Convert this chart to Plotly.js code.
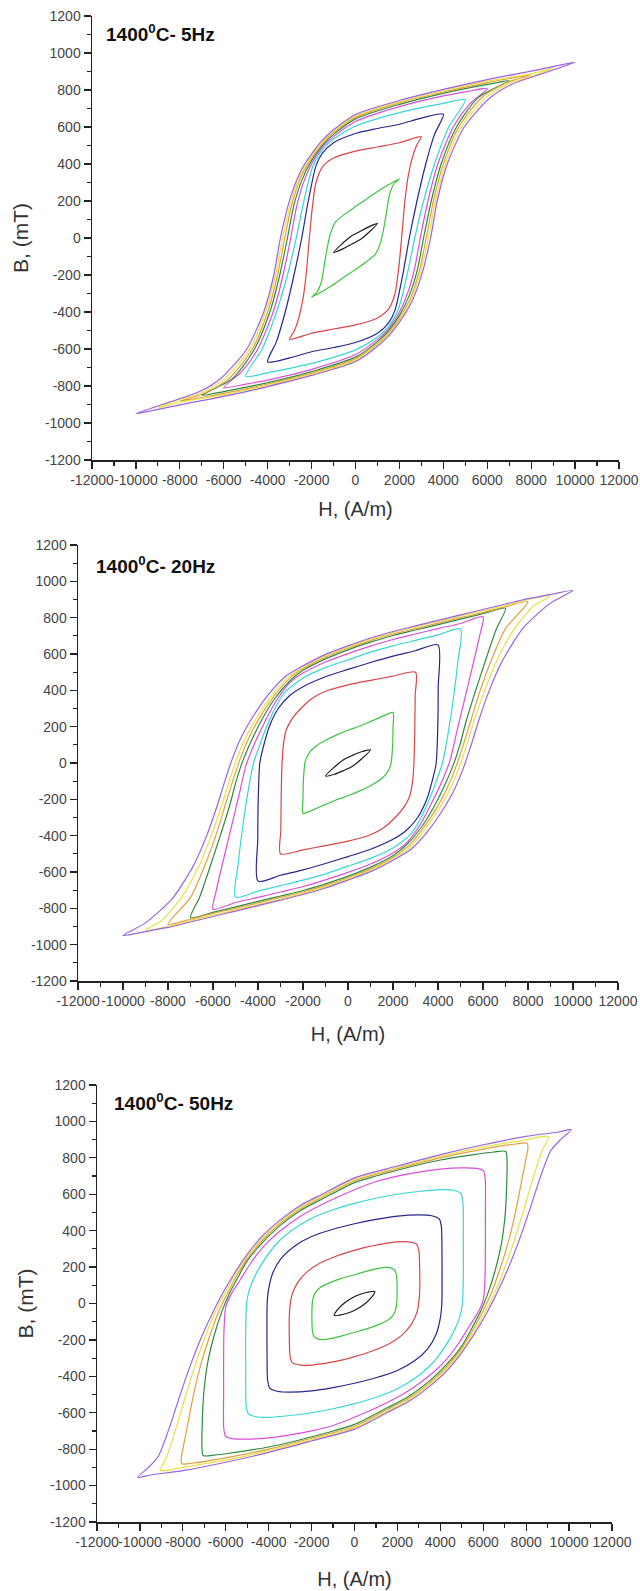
<!DOCTYPE html>
<html><head><meta charset="utf-8">
<script src="https://cdn.plot.ly/plotly-3.0.1.min.js"></script>
<style>html,body{margin:0;padding:0;background:#fff}#chart{width:640px;height:1591px}</style>
</head><body><div id="chart"></div>
<script>
// ---- axis ticks ----
const xTickVals = [-12000,-10000,-8000,-6000,-4000,-2000,0,2000,4000,6000,8000,10000,12000];
const xTickText = ['-12000','-10000','-8000','-6000','-4000','-2000','0','2000','4000','6000','8000','10000','12000'];
const yTickVals = [-1200,-1000,-800,-600,-400,-200,0,200,400,600,800,1000,1200];
const yTickText = ['-1200','-1000','-800','-600','-400','-200','0','200','400','600','800','1000','1200'];
const panelTitles = ['<b>1400<sup>0</sup>C- 5Hz</b>','<b>1400<sup>0</sup>C- 20Hz</b>','<b>1400<sup>0</sup>C- 50Hz</b>'];
const loopColors = ['#1a1a1a','#3ec43e','#d94545','#26268f','#38d6d6','#d94fd9','#2e8b3e','#e0a040','#e8e048','#9b62e0'];

// ---- 5 Hz loops (H in A/m, B in mT), closed paths ----
const h5_1 = [1000,600,200,-200,-600,-1000,-600,-200,200,600,1000];
const b5_1 = [78,60,35,10,-30,-78,-60,-35,-10,30,78];
const h5_2 = [2000,1500,1000,500,0,-500,-900,-1100,-1250,-1400,-1550,-1750,-2000,-1500,-1000,-500,0,500,900,1100,1250,1400,1550,1750,2000];
const b5_2 = [320,288,252,210,170,128,88,40,-30,-130,-235,-292,-320,-288,-252,-210,-170,-128,-88,-40,30,130,235,292,320];
const h5_3 = [3000,2000,1000,0,-1000,-1500,-1800,-1980,-2100,-2250,-2400,-2600,-2800,-3000,-2000,-1000,0,1000,1500,1800,1980,2100,2250,2400,2600,2800,3000];
const b5_3 = [548,515,492,470,432,385,300,150,0,-200,-335,-440,-505,-548,-515,-492,-470,-432,-385,-300,-150,0,200,335,440,505,548];
const h5_4 = [4000,3000,2000,1000,0,-1000,-1500,-1800,-2150,-2450,-2800,-3200,-3600,-4000,-3000,-2000,-1000,0,1000,1500,1800,2150,2450,2800,3200,3600,4000];
const b5_4 = [670,648,615,592,565,515,460,390,200,0,-200,-400,-560,-670,-648,-615,-592,-565,-515,-460,-390,-200,0,200,400,560,670];
const h5_5 = [5000,4000,3000,2000,1000,0,-1000,-1500,-1950,-2350,-2700,-3100,-3600,-4250,-5000,-4000,-3000,-2000,-1000,0,1000,1500,1950,2350,2700,3100,3600,4250,5000];
const b5_5 = [748,728,705,678,645,605,535,480,385,200,0,-200,-400,-600,-748,-728,-705,-678,-645,-605,-535,-480,-385,-200,0,200,400,600,748];
const h5_6 = [6000,5000,4000,2000,0,-1000,-1500,-2000,-2400,-2700,-2950,-3300,-3750,-4450,-5200,-6000,-5000,-4000,-2000,0,1000,1500,2000,2400,2700,2950,3300,3750,4450,5200,6000];
const b5_6 = [808,790,768,710,630,548,492,400,290,160,0,-200,-400,-600,-725,-808,-790,-768,-710,-630,-548,-492,-400,-290,-160,0,200,400,600,725,808];
const h5_7 = [7000,6000,4000,2000,0,-1000,-1500,-2000,-2450,-2800,-3100,-3450,-3900,-4600,-5600,-7000,-6000,-4000,-2000,0,1000,1500,2000,2450,2800,3100,3450,3900,4600,5600,7000];
const b5_7 = [850,830,782,722,644,560,502,418,310,180,0,-200,-400,-600,-760,-850,-830,-782,-722,-644,-560,-502,-418,-310,-180,0,200,400,600,760,850];
const h5_8 = [8000,7000,6000,4000,2000,0,-1000,-1500,-2000,-2500,-2900,-3220,-3550,-4000,-4700,-5800,-7000,-8000,-7000,-6000,-4000,-2000,0,1000,1500,2000,2500,2900,3220,3550,4000,4700,5800,7000,8000];
const b5_8 = [882,862,840,789,730,652,570,512,432,325,180,0,-200,-400,-600,-765,-845,-882,-862,-840,-789,-730,-652,-570,-512,-432,-325,-180,0,200,400,600,765,845,882];
const h5_9 = [9000,8000,6000,4000,2000,0,-1000,-1500,-2000,-2500,-2950,-3320,-3640,-4100,-4820,-5950,-7000,-8000,-9000,-8000,-6000,-4000,-2000,0,1000,1500,2000,2500,2950,3320,3640,4100,4820,5950,7000,8000,9000];
const b5_9 = [918,888,848,796,736,660,576,522,444,340,190,0,-200,-400,-600,-760,-835,-872,-918,-888,-848,-796,-736,-660,-576,-522,-444,-340,-190,0,200,400,600,760,835,872,918];
const h5_10 = [10000,8000,6000,4000,2000,0,-1000,-1500,-2000,-2500,-3000,-3420,-3720,-4180,-4950,-6100,-7100,-8500,-10000,-8000,-6000,-4000,-2000,0,1000,1500,2000,2500,3000,3420,3720,4180,4950,6100,7100,8500,10000];
const b5_10 = [950,902,856,803,743,668,585,530,455,360,205,0,-200,-400,-600,-755,-830,-888,-950,-902,-856,-803,-743,-668,-585,-530,-455,-360,-205,0,200,400,600,755,830,888,950];

// ---- 20 Hz loops ----
const h20_1 = [1000,600,200,-200,-600,-1000,-600,-200,200,600,1000];
const b20_1 = [72,62,42,18,-22,-72,-62,-42,-18,22,72];
const h20_2 = [2000,1500,1000,500,0,-500,-1000,-1400,-1700,-1900,-1980,-2000,-2000,-1500,-1000,-500,0,500,1000,1400,1700,1900,1980,2000,2000];
const b20_2 = [278,255,228,202,180,155,125,95,60,10,-90,-200,-278,-255,-228,-202,-180,-155,-125,-95,-60,-10,90,200,278];
const h20_3 = [3000,2000,1000,0,-1000,-1600,-2100,-2500,-2750,-2880,-2930,-2970,-2985,-3000,-2000,-1000,0,1000,1600,2100,2500,2750,2880,2930,2970,2985,3000];
const b20_3 = [500,478,455,430,395,355,300,240,180,90,0,-186,-370,-500,-478,-455,-430,-395,-355,-300,-240,-180,-90,0,186,370,500];
const h20_4 = [4000,3000,2000,1000,0,-1000,-2000,-2600,-3100,-3500,-3780,-3920,-3990,-4010,-4000,-3000,-2000,-1000,0,1000,2000,2600,3100,3500,3780,3920,3990,4010,4000];
const b20_4 = [650,618,588,553,515,475,420,370,300,200,80,0,-200,-420,-650,-618,-588,-553,-515,-475,-420,-370,-300,-200,-80,0,200,420,650];
const h20_5 = [5000,4000,3000,2000,1000,0,-1000,-2000,-2800,-3250,-3650,-3950,-4200,-4500,-4700,-4880,-5000,-4000,-3000,-2000,-1000,0,1000,2000,2800,3250,3650,3950,4200,4500,4700,4880,5000];
const b20_5 = [738,705,675,645,610,568,525,468,390,300,190,90,0,-200,-370,-555,-738,-705,-675,-645,-610,-568,-525,-468,-390,-300,-190,-90,0,200,370,555,738];
const h20_6 = [6000,5000,4000,3000,2000,1000,0,-1000,-2000,-2600,-3250,-3800,-4250,-4550,-4850,-5200,-5550,-5850,-6000,-5000,-4000,-3000,-2000,-1000,0,1000,2000,2600,3250,3800,4250,4550,4850,5200,5550,5850,6000];
const b20_6 = [805,768,740,710,680,643,602,556,495,440,330,200,80,-20,-180,-360,-540,-700,-805,-768,-740,-710,-680,-643,-602,-556,-495,-440,-330,-200,-80,20,180,360,540,700,805];
const h20_7 = [7000,6000,5000,4000,3000,2000,1000,0,-1000,-2000,-2600,-3250,-3800,-4250,-4650,-4950,-5250,-5650,-6100,-6600,-7000,-6000,-5000,-4000,-3000,-2000,-1000,0,1000,2000,2600,3250,3800,4250,4650,4950,5250,5650,6100,6600,7000];
const b20_7 = [852,822,792,762,732,702,665,623,573,510,450,355,245,135,20,-90,-230,-390,-560,-740,-852,-822,-792,-762,-732,-702,-665,-623,-573,-510,-450,-355,-245,-135,-20,90,230,390,560,740,852];
const h20_8 = [8000,7000,6000,5000,4000,3000,2000,1000,0,-1000,-2000,-2650,-3300,-3900,-4400,-4800,-5100,-5450,-5850,-6350,-7000,-8000,-7000,-6000,-5000,-4000,-3000,-2000,-1000,0,1000,2000,2650,3300,3900,4400,4800,5100,5450,5850,6350,7000,8000];
const b20_8 = [888,860,828,800,770,740,710,674,632,583,520,460,365,255,140,20,-90,-230,-390,-560,-740,-888,-860,-828,-800,-770,-740,-710,-674,-632,-583,-520,-460,-365,-255,-140,-20,90,230,390,560,740,888];
const h20_9 = [9000,8000,7000,6000,5000,4000,3000,2000,1000,0,-1000,-2000,-2700,-3400,-4000,-4550,-4950,-5250,-5600,-6050,-6600,-7400,-8300,-9000,-8000,-7000,-6000,-5000,-4000,-3000,-2000,-1000,0,1000,2000,2700,3400,4000,4550,4950,5250,5600,6050,6600,7400,8300,9000];
const b20_9 = [920,900,868,838,810,780,750,718,682,637,590,527,470,370,260,140,20,-90,-230,-390,-560,-740,-870,-920,-900,-868,-838,-810,-780,-750,-718,-682,-637,-590,-527,-470,-370,-260,-140,-20,90,230,390,560,740,870,920];
const h20_10 = [10000,9000,8000,7000,6000,5000,4000,3000,2000,1000,0,-1000,-2000,-2800,-3550,-4200,-4750,-5150,-5450,-5800,-6250,-6850,-7800,-9000,-10000,-9000,-8000,-7000,-6000,-5000,-4000,-3000,-2000,-1000,0,1000,2000,2800,3550,4200,4750,5150,5450,5800,6250,6850,7800,9000,10000];
const b20_10 = [950,928,905,875,845,815,785,755,724,688,645,598,535,475,375,260,140,20,-90,-230,-390,-560,-745,-880,-950,-928,-905,-875,-845,-815,-785,-755,-724,-688,-645,-598,-535,-475,-375,-260,-140,-20,90,230,390,560,745,880,950];

// ---- 50 Hz loops ----
const h50_1 = [950,700,300,-100,-500,-800,-950,-700,-300,100,500,800,950];
const b50_1 = [66,64,52,32,0,-35,-66,-64,-52,-32,0,35,66];
const h50_2 = [1960,1880,1700,1400,1000,500,0,-600,-1200,-1600,-1850,-1960,-1985,-1960,-1880,-1700,-1400,-1000,-500,0,600,1200,1600,1850,1960,1985,1960];
const b50_2 = [150,182,196,198,190,175,158,138,112,88,55,10,-60,-150,-182,-196,-198,-190,-175,-158,-138,-112,-88,-55,-10,60,150];
const h50_3 = [3000,2900,2500,2000,1200,500,0,-800,-1600,-2200,-2650,-2920,-3030,-3040,-3000,-2900,-2500,-2000,-1200,-500,0,800,1600,2200,2650,2920,3030,3040,3000];
const b50_3 = [290,325,338,338,325,308,292,262,222,175,115,45,-50,-180,-290,-325,-338,-338,-325,-308,-292,-262,-222,-175,-115,-45,50,180,290];
const h50_4 = [4050,3950,3600,3000,2000,1000,0,-1000,-2000,-2800,-3400,-3800,-4000,-4070,-4080,-4075,-4050,-3950,-3600,-3000,-2000,-1000,0,1000,2000,2800,3400,3800,4000,4070,4080,4075,4050];
const b50_4 = [420,465,482,487,480,462,438,408,368,315,250,170,80,0,-150,-300,-420,-465,-482,-487,-480,-462,-438,-408,-368,-315,-250,-170,-80,0,150,300,420];
const h50_5 = [5050,4950,4600,4000,3000,2000,1000,0,-1000,-2000,-3000,-3700,-4200,-4600,-4900,-5030,-5070,-5070,-5050,-4950,-4600,-4000,-3000,-2000,-1000,0,1000,2000,3000,3700,4200,4600,4900,5030,5070,5070,5050];
const b50_5 = [560,605,622,625,615,600,578,550,515,468,395,320,240,160,75,0,-150,-350,-560,-605,-622,-625,-615,-600,-578,-550,-515,-468,-395,-320,-240,-160,-75,0,150,350,560];
const h50_6 = [6090,6000,5700,5000,4000,3000,2000,1000,0,-1500,-2500,-3500,-4300,-4900,-5350,-5750,-6000,-6080,-6100,-6100,-6090,-6000,-5700,-5000,-4000,-3000,-2000,-1000,0,1500,2500,3500,4300,4900,5350,5750,6000,6080,6100,6100,6090];
const b50_6 = [690,730,742,745,738,722,700,670,625,545,480,395,305,210,125,50,-20,-140,-300,-500,-690,-730,-742,-745,-738,-722,-700,-670,-625,-545,-480,-395,-305,-210,-125,-50,20,140,300,500,690];
const h50_7 = [7050,6500,6000,5000,4000,3000,2000,1000,0,-1500,-2500,-3500,-4300,-5000,-5450,-5850,-6200,-6550,-6850,-7030,-7100,-7110,-7050,-6500,-6000,-5000,-4000,-3000,-2000,-1000,0,1500,2500,3500,4300,5000,5450,5850,6200,6550,6850,7030,7100,7110,7050];
const b50_7 = [835,832,825,808,788,762,732,700,664,574,512,425,333,234,140,50,-50,-180,-330,-500,-680,-780,-835,-832,-825,-808,-788,-762,-732,-700,-664,-574,-512,-425,-333,-234,-140,-50,50,180,330,500,680,780,835];
const h50_8 = [8050,7500,6000,4000,2000,0,-1500,-2500,-3500,-4300,-5000,-5500,-5950,-6350,-6750,-7150,-7500,-7800,-8000,-8080,-8050,-7500,-6000,-4000,-2000,0,1500,2500,3500,4300,5000,5500,5950,6350,6750,7150,7500,7800,8000,8080,8050];
const b50_8 = [880,876,848,800,740,674,584,522,436,346,245,150,50,-50,-180,-330,-500,-680,-800,-850,-880,-876,-848,-800,-740,-674,-584,-522,-436,-346,-245,-150,-50,50,180,330,500,680,800,850,880];
const h50_9 = [9050,8500,8000,6000,4000,2000,0,-1500,-2500,-3500,-4300,-5000,-5550,-6050,-6500,-6950,-7400,-7850,-8300,-8750,-9000,-9050,-8500,-8000,-6000,-4000,-2000,0,1500,2500,3500,4300,5000,5550,6050,6500,6950,7400,7850,8300,8750,9000,9050];
const b50_9 = [918,912,900,860,808,748,682,592,531,445,358,258,160,55,-50,-180,-330,-500,-680,-840,-900,-918,-912,-900,-860,-808,-748,-682,-592,-531,-445,-358,-258,-160,-55,50,180,330,500,680,840,900,918];
const h50_10 = [10100,9500,8000,6000,4000,2000,0,-1500,-2500,-3500,-4300,-5000,-5600,-6150,-6650,-7150,-7650,-8150,-8650,-9150,-9600,-10100,-9500,-8000,-6000,-4000,-2000,0,1500,2500,3500,4300,5000,5600,6150,6650,7150,7650,8150,8650,9150,9600,10100];
const b50_10 = [955,942,918,872,818,755,690,600,540,455,370,270,165,55,-60,-190,-340,-510,-690,-840,-900,-955,-942,-918,-872,-818,-755,-690,-600,-540,-455,-370,-270,-165,-55,60,190,340,510,690,840,900,955];

const loops5 = [[h5_1,b5_1],[h5_2,b5_2],[h5_3,b5_3],[h5_4,b5_4],[h5_5,b5_5],[h5_6,b5_6],[h5_7,b5_7],[h5_8,b5_8],[h5_9,b5_9],[h5_10,b5_10]];
const loops20 = [[h20_1,b20_1],[h20_2,b20_2],[h20_3,b20_3],[h20_4,b20_4],[h20_5,b20_5],[h20_6,b20_6],[h20_7,b20_7],[h20_8,b20_8],[h20_9,b20_9],[h20_10,b20_10]];
const loops50 = [[h50_1,b50_1],[h50_2,b50_2],[h50_3,b50_3],[h50_4,b50_4],[h50_5,b50_5],[h50_6,b50_6],[h50_7,b50_7],[h50_8,b50_8],[h50_9,b50_9],[h50_10,b50_10]];

const traces = [];
function addPanel(loops, xa, ya) {
  loops.forEach((lp, i) => traces.push({
    type: 'scatter', mode: 'lines', x: lp[0], y: lp[1], xaxis: xa, yaxis: ya,
    line: {color: loopColors[i], width: 1.2, shape: 'spline', smoothing: 0.7},
    hoverinfo: 'skip', showlegend: false
  }));
}
addPanel(loops5, 'x', 'y');
addPanel(loops20, 'x2', 'y2');
addPanel(loops50, 'x3', 'y3');

const FONT = 'Liberation Sans, Arial, sans-serif';
function xAxis(domain, anchor, standoff) {
  return {
    domain: domain, anchor: anchor, range: [-12000, 12000], fixedrange: true,
    tickmode: 'array', tickvals: xTickVals, ticktext: xTickText, tickangle: 0,
    ticks: 'outside', ticklen: 7, tickwidth: 1.3, tickcolor: '#222',
    showline: true, linecolor: '#222', linewidth: 1.5, showgrid: false, zeroline: false,
    tickfont: {family: FONT, size: 14, color: '#444'},
    minor: {tickmode: 'linear', tick0: 0, dtick: 1000, ticks: 'outside', ticklen: 4, tickwidth: 1.2, tickcolor: '#222', showgrid: false},
    title: {text: 'H, (A/m)', font: {family: FONT, size: 20, color: '#333'}, standoff: standoff}
  };
}
function yAxis(domain, anchor, title, standoff) {
  const ax = {
    domain: domain, anchor: anchor, range: [-1200, 1200], fixedrange: true,
    tickmode: 'array', tickvals: yTickVals, ticktext: yTickText,
    ticks: 'outside', ticklen: 7, tickwidth: 1.3, tickcolor: '#222',
    showline: true, linecolor: '#222', linewidth: 1.5, showgrid: false, zeroline: false,
    tickfont: {family: FONT, size: 14, color: '#444'},
    minor: {tickmode: 'linear', tick0: 0, dtick: 100, ticks: 'outside', ticklen: 4, tickwidth: 1.2, tickcolor: '#222', showgrid: false}
  };
  if (title) ax.title = {text: title, font: {family: FONT, size: 21, color: '#333'}, standoff: standoff};
  return ax;
}
const H = 1591, W = 640;
const layout = {
  width: W, height: H,
  margin: {l: 0, r: 0, t: 0, b: 0},
  paper_bgcolor: '#fff', plot_bgcolor: '#fff',
  showlegend: false,
  xaxis: xAxis([92/W, 619/W], 'y', 14),
  yaxis: yAxis([1 - 460/H, 1 - 16/H], 'x', 'B, (mT)', 10),
  xaxis2: xAxis([78/W, 618/W], 'y2', 18),
  yaxis2: yAxis([1 - 981/H, 1 - 545/H], 'x2', null, 0),
  xaxis3: xAxis([97/W, 612/W], 'y3', 22),
  yaxis3: yAxis([1 - 1522/H, 1 - 1085/H], 'x3', 'B, (mT)', 10),
  annotations: [
    {text: panelTitles[0], xref: 'paper', yref: 'paper', x: 104/W, y: 1 - 33/H, xanchor: 'left', yanchor: 'middle', showarrow: false, font: {family: FONT, size: 19, color: '#111'}},
    {text: panelTitles[1], xref: 'paper', yref: 'paper', x: 94/W, y: 1 - 565/H, xanchor: 'left', yanchor: 'middle', showarrow: false, font: {family: FONT, size: 19, color: '#111'}},
    {text: panelTitles[2], xref: 'paper', yref: 'paper', x: 112/W, y: 1 - 1102/H, xanchor: 'left', yanchor: 'middle', showarrow: false, font: {family: FONT, size: 19, color: '#111'}}
  ]
};
Plotly.newPlot('chart', traces, layout, {displayModeBar: false, staticPlot: true});
</script>
</body></html>
